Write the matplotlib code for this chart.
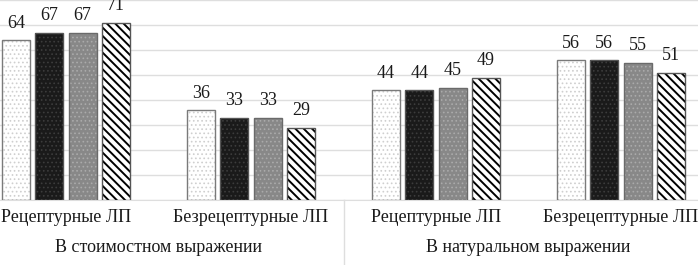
import matplotlib
matplotlib.use("Agg")
import matplotlib.pyplot as plt
import numpy as np

plt.rcParams['font.family'] = ['Liberation Serif', 'DejaVu Serif']

categories = ["Рецептурные ЛП", "Безрецептурные ЛП", "Рецептурные ЛП", "Безрецептурные ЛП"]
groups = ["В стоимостном выражении", "В натуральном выражении"]
series = [
    [64, 36, 44, 56],
    [67, 33, 44, 56],
    [67, 33, 45, 55],
    [71, 29, 49, 51],
]
faces = ["white", "#1a1a1a", "#888888", "white"]
hatch_cols = ["#cfcfcf", "#3c3c3c", "#aaaaaa", "black"]
hatches = ["....", "....", "....", "\\\\\\\\"]
hatch_lw = [0.7, 0.7, 0.7, 1.4]
edge = ["#7a7a7a", "#555555", "#6a6a6a", "#555555"]

W, H = 698, 265
fig = plt.figure(figsize=(W / 100, H / 100), dpi=100)
left_px = -26.5
cat_w = 185
ax = fig.add_axes([left_px / W, 65 / H, 4 * cat_w / W, 200 / H])
ax.set_xlim(-0.5, 3.5)
ax.set_ylim(0, 80)

x = np.arange(len(categories))
step = 0.18
width = 0.15
for i, vals in enumerate(series):
    pos = x + (i - 1.5) * step
    plt.rcParams['hatch.linewidth'] = hatch_lw[i]
    ax.bar(pos, vals, width, color=faces[i], hatch=hatches[i],
           edgecolor=hatch_cols[i], linewidth=0, zorder=3)
    ax.bar(pos, vals, width, fill=False, edgecolor=edge[i], linewidth=1.0, zorder=4)
    for p, v in zip(pos, vals):
        ax.annotate(str(v), (p, v), xytext=(0, 6), textcoords="offset points",
                    ha="center", va="bottom", fontsize=13, color="#1a1a1a")

ax.set_yticks(np.arange(0, 81, 10))
ax.yaxis.grid(True, color="#dedede", linewidth=1.0, zorder=0)
ax.tick_params(left=False, labelleft=False, bottom=False, labelbottom=False)
for s in ["left", "right", "top"]:
    ax.spines[s].set_visible(False)
ax.spines["bottom"].set_color("#dedede")

for xi, c in zip(x, categories):
    ax.text(xi, -17 / 200 * 80, c, ha="center", va="center", fontsize=13,
            color="#1a1a1a", clip_on=False)
for gi, g in enumerate(groups):
    ax.text(0.5 + 2 * gi, -48 / 200 * 80, g, ha="center", va="center", fontsize=13,
            color="#1a1a1a", clip_on=False)
for b in [-0.5, 1.5, 3.5]:
    ax.plot([b, b], [0, -65 / 200 * 80], color="#dedede", linewidth=1.0, clip_on=False)

fig.savefig("out.png", dpi=100)
